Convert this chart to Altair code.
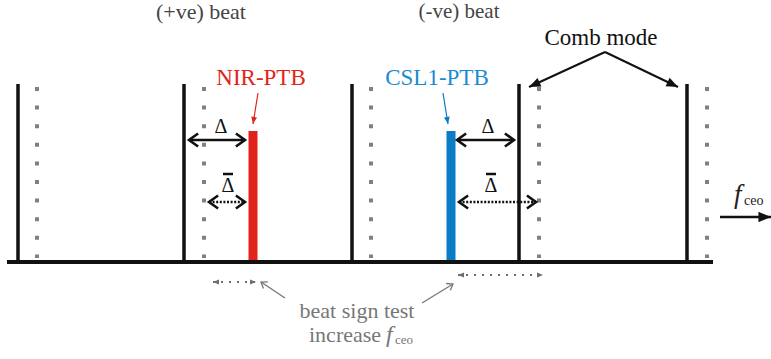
import math
import altair as alt
import pandas as pd

W, H = 771, 359
SERIF = "'Liberation Serif', 'Times New Roman', Times, serif"

# comb teeth (solid) and their shifted copies (dotted)
comb_x = [18, 184, 352, 519, 687]
shifted_x = [37, 204, 371, 539, 707]
comb_top, comb_bottom = 84, 262
dots_top, dots_bottom = 87, 258
axis_x = [7, 713]
axis_y = 262

# the two lasers beating against the comb
laser_names = ["NIR-PTB", "CSL1-PTB"]
laser_x = [253, 451]
laser_top = [131, 131]
laser_colors = ["#e2231b", "#0a7cc4"]
label_colors = ["#e2231b", "#1b8bd0"]

# arrows: (x1, y1, x2, y2), head drawn at (x2, y2)
delta_arrows = [(189, 140, 245, 140), (457, 140, 514, 140)]
delta_bar_arrows = [(209, 202, 245, 202), (459, 202, 536, 202)]
shift_arrows = [(213, 282, 256, 282), (458, 275, 543, 275)]
pointer_arrows = [(285, 298, 261, 282), (422, 303, 453, 284)]
laser_pointers = [(258, 93, 253, 124), (443, 93, 448, 124)]
mode_pointers = [(605, 52, 529, 87), (605, 52, 678, 87)]
fceo_arrow = [(720, 217, 771, 217)]

# text labels: text, x, baseline y, size, colour, align
labels_upright = [
    ("(+ve) beat", 201, 19, 22, "#454545", "center"),
    ("(-ve) beat", 459, 18, 21, "#454545", "center"),
    ("Comb mode", 601, 45, 23, "#111111", "center"),
    ("NIR-PTB", 261, 85, 23, label_colors[0], "center"),
    ("CSL1-PTB", 437, 85, 23, label_colors[1], "center"),
    ("Δ", 221, 133, 20, "#111111", "center"),
    ("Δ", 488, 133, 20, "#111111", "center"),
    ("Δ", 228, 192, 20, "#111111", "center"),
    ("Δ", 491, 192, 20, "#111111", "center"),
    ("beat sign test", 357, 318, 22, "#777777", "center"),
    ("increase", 309, 342, 22, "#777777", "left"),
    ("ceo", 395, 344, 13, "#777777", "left"),
    ("ceo", 744, 205, 14, "#222222", "left"),
]
labels_italic = [
    ("f", 386, 342, 24, "#777777", "left"),
    ("f", 734, 203, 27, "#222222", "left"),
]
# bars over the Δ symbols (x1, x2, y)
overbars = [(223, 233, 174), (486, 496, 174)]

xs = alt.Scale(domain=[0, W], nice=False, zero=False)
ys = alt.Scale(domain=[0, H], nice=False, zero=False, reverse=True)


def X(f):
    return alt.X(f, type="quantitative", scale=xs, axis=None)


def Y(f):
    return alt.Y(f, type="quantitative", scale=ys, axis=None)


CHEVRON = "M-1.4,-1L0,0L-1.4,1"
TRIANGLE = "M0,0L-2.2,-0.9L-2.2,0.9Z"


def arrow(segs, color, width, head, head_size, both=False, dash=None):
    seg_df = pd.DataFrame(segs, columns=["x1", "y1", "x2", "y2"])
    rule_kw = dict(color=color, strokeWidth=width)
    if dash:
        rule_kw["strokeDash"] = dash
    line = alt.Chart(seg_df).mark_rule(**rule_kw).encode(
        x=X("x1"), y=Y("y1"), x2="x2", y2="y2")
    heads = []
    for x1, y1, x2, y2 in segs:
        ang = math.degrees(math.atan2(y2 - y1, x2 - x1)) % 360
        heads.append((x2, y2, ang))
        if both:
            heads.append((x1, y1, (ang + 180) % 360))
    head_df = pd.DataFrame(heads, columns=["x", "y", "angle"])
    filled = head == TRIANGLE
    pt_kw = dict(shape=head, size=head_size, filled=filled, opacity=1,
                 color=color, strokeWidth=width if not filled else 0.5,
                 strokeJoin="miter")
    tips = alt.Chart(head_df).mark_point(**pt_kw).encode(
        x=X("x"), y=Y("y"), angle=alt.Angle("angle:Q", scale=None))
    return [line, tips]


layers = []

# frequency axis
axis_df = pd.DataFrame({"x1": [axis_x[0]], "x2": [axis_x[1]], "y": [axis_y]})
layers.append(alt.Chart(axis_df).mark_rule(color="#111111", strokeWidth=4).encode(
    x=X("x1"), x2="x2", y=Y("y")))

# comb teeth
comb_df = pd.DataFrame({"x": comb_x, "y1": comb_top, "y2": comb_bottom})
layers.append(alt.Chart(comb_df).mark_rule(color="#111111", strokeWidth=3.5).encode(
    x=X("x"), y=Y("y1"), y2="y2"))

# shifted teeth, drawn as square dots
shift_df = pd.DataFrame({"x": shifted_x, "y1": dots_top, "y2": dots_bottom})
layers.append(alt.Chart(shift_df).mark_rule(
    color="#808080", strokeWidth=4, strokeDash=[4, 14.6]).encode(
    x=X("x"), y=Y("y1"), y2="y2"))

# laser lines
laser_df = pd.DataFrame({"name": laser_names, "x": laser_x, "y1": laser_top,
                         "y2": axis_y - 2, "color": laser_colors})
layers.append(alt.Chart(laser_df).mark_rule(strokeWidth=9).encode(
    x=X("x"), y=Y("y1"), y2="y2", color=alt.Color("color:N", scale=None)))

# arrows
layers += arrow(delta_arrows, "#111111", 2.6, CHEVRON, 169, both=True)
layers += arrow(delta_bar_arrows, "#111111", 2.6, CHEVRON, 169, both=True, dash=[2, 1.6])
layers += arrow(shift_arrows, "#6e6e6e", 2, TRIANGLE, 30, both=True, dash=[2, 6])
layers += arrow(pointer_arrows, "#777777", 1.3, CHEVRON, 64)
layers += arrow(laser_pointers[:1], laser_colors[0], 1.2, TRIANGLE, 42)
layers += arrow(laser_pointers[1:], laser_colors[1], 1.2, TRIANGLE, 42)
layers += arrow(mode_pointers, "#111111", 2, TRIANGLE, 110)
layers += arrow(fceo_arrow, "#111111", 2.6, TRIANGLE, 130)

# bars over Δ
bar_df = pd.DataFrame(overbars, columns=["x1", "x2", "y"])
layers.append(alt.Chart(bar_df).mark_rule(color="#111111", strokeWidth=2.5).encode(
    x=X("x1"), x2="x2", y=Y("y")))

# labels
cols = ["text", "x", "y", "size", "color", "align"]
for rows, style in ((labels_upright, "normal"), (labels_italic, "italic")):
    df = pd.DataFrame(rows, columns=cols)
    for al in ("center", "left"):
        sub = df[df["align"] == al]
        if sub.empty:
            continue
        layers.append(alt.Chart(sub).mark_text(
            font=SERIF, fontStyle=style, align=al, baseline="alphabetic").encode(
            x=X("x"), y=Y("y"), text="text:N",
            size=alt.Size("size:Q", scale=None),
            color=alt.Color("color:N", scale=None)))

chart = alt.layer(*layers).properties(
    width=W, height=H, padding=0,
    autosize=alt.AutoSizeParams(type="none"),
    background="white",
).configure_view(stroke=None)

chart.save("out.html", embed_options={"renderer": "svg", "actions": False})
